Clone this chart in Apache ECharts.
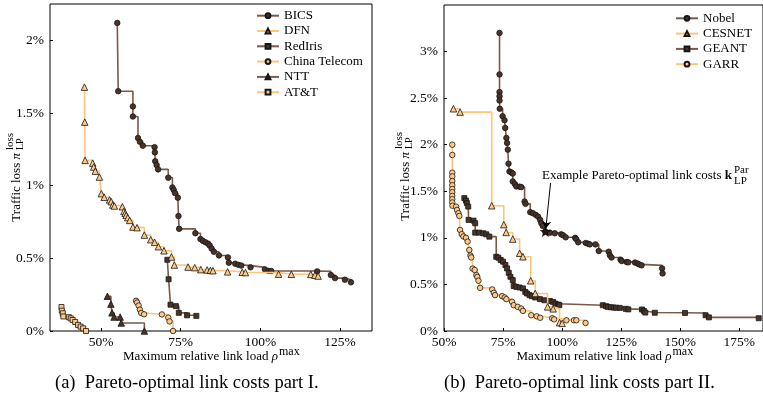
<!DOCTYPE html>
<html>
<head>
<meta charset="utf-8">
<script src="https://cdn.jsdelivr.net/npm/echarts@6/dist/echarts.min.js"></script>
<style>
  html, body { margin: 0; padding: 0; background: #fff; }
  #main { width: 763px; height: 398px; }
</style>
</head>
<body>
<div id="main"></div>
<script>
// Pareto fronts: x = maximum relative link load (%), y = traffic loss (%)

// ---- Part I ----
const bicsX = [55.1, 55.4, 60.0, 60.0, 61.6, 62.2, 63.1, 66.8, 66.9, 67.0, 67.45, 67.9, 71.1, 72.4, 72.8, 73.2, 74.1, 74.3, 74.5, 79.6, 81.2, 82.0, 82.8, 83.6, 84.1, 84.7, 85.4, 87.0, 89.8, 90.1, 92.1, 93.1, 94.0, 96.9, 101.4, 102.5, 103.4, 117.8, 122.1, 123.4, 126.5, 128.4];
const bicsY = [2.12, 1.65, 1.545, 1.476, 1.328, 1.302, 1.275, 1.265, 1.229, 1.168, 1.142, 1.112, 1.055, 0.988, 0.97, 0.949, 0.917, 0.791, 0.703, 0.673, 0.633, 0.62, 0.61, 0.601, 0.588, 0.567, 0.545, 0.52, 0.506, 0.47, 0.463, 0.455, 0.45, 0.438, 0.424, 0.414, 0.413, 0.41, 0.385, 0.364, 0.353, 0.335];

const dfnX = [44.8, 44.9, 45.0, 47.4, 47.7, 48.2, 49.5, 50.1, 51.0, 52.7, 53.2, 53.7, 54.2, 56.7, 57.2, 57.6, 57.9, 58.4, 59.0, 60.0, 61.3, 63.6, 65.6, 66.8, 68.0, 69.75, 72.1, 73.0, 77.3, 79.4, 81.3, 83.3, 84.3, 85.1, 89.7, 94.3, 95.3, 105.7, 109.7, 115.8, 117.1, 118.1];
const dfnY = [1.678, 1.437, 1.174, 1.155, 1.128, 1.1, 1.059, 0.945, 0.92, 0.902, 0.89, 0.867, 0.86, 0.855, 0.823, 0.81, 0.796, 0.78, 0.761, 0.715, 0.711, 0.66, 0.628, 0.61, 0.58, 0.552, 0.509, 0.454, 0.44, 0.436, 0.422, 0.42, 0.417, 0.415, 0.407, 0.404, 0.402, 0.391, 0.39, 0.389, 0.384, 0.378];

const redirisX = [70.8, 71.2, 71.8, 73.5, 74.4, 77.0, 79.9];
const redirisY = [0.49, 0.356, 0.181, 0.171, 0.125, 0.108, 0.104];

const chinaTelecomX = [61.0, 61.3, 61.8, 62.2, 62.6, 63.5, 69.1, 71.1, 71.5, 72.6];
const chinaTelecomY = [0.208, 0.196, 0.175, 0.147, 0.124, 0.115, 0.114, 0.092, 0.066, 0.0];

const nttX = [52.0, 53.1, 53.45, 54.1, 56.0, 56.35, 63.6];
const nttY = [0.239, 0.185, 0.125, 0.096, 0.096, 0.055, 0.0];

const attX = [37.6, 37.7, 38.0, 38.2, 39.9, 40.5, 41.1, 41.9, 42.8, 43.6, 44.4, 45.3];
const attY = [0.165, 0.14, 0.122, 0.1, 0.095, 0.087, 0.076, 0.062, 0.042, 0.03, 0.018, 0.0];

// ---- Part II ----
const nobelX = [73.5, 73.5, 73.5, 73.5, 73.5, 73.6, 74.8, 75.6, 75.9, 76.4, 76.7, 77.0, 77.3, 77.7, 78.5, 79.1, 79.1, 80.0, 80.6, 82.0, 82.7, 84.1, 84.5, 86.5, 87.6, 88.8, 89.8, 90.7, 91.2, 91.8, 92.9, 94.85, 96.9, 99.6, 100.4, 101.5, 105.5, 106.0, 106.8, 110.0, 111.0, 111.7, 114.1, 115.5, 119.7, 120.2, 120.9, 124.7, 125.2, 127.3, 128.0, 130.8, 131.8, 132.6, 133.6, 142.3, 142.5];
const nobelY = [3.20, 2.755, 2.565, 2.52, 2.475, 2.386, 2.306, 2.263, 2.18, 2.073, 2.019, 1.947, 1.796, 1.713, 1.703, 1.69, 1.606, 1.577, 1.552, 1.55, 1.545, 1.39, 1.365, 1.276, 1.265, 1.247, 1.228, 1.193, 1.157, 1.128, 1.067, 1.056, 1.049, 1.038, 1.028, 1.006, 1.0, 0.985, 0.952, 0.945, 0.937, 0.93, 0.93, 0.859, 0.851, 0.812, 0.789, 0.766, 0.751, 0.74, 0.737, 0.735, 0.726, 0.715, 0.705, 0.672, 0.618];
const nobelExampleIndex = 30;            // highlighted Pareto-optimal point
const exampleArrowFrom = [95.1, 1.59];
const exampleArrowTo = [93.1, 1.10];

const cesnetX = [54.0, 56.8, 70.2, 75.3, 76.3, 79.1, 82.0, 83.4, 86.7, 88.6, 93.85, 96.2, 98.9, 100.0];
const cesnetY = [2.386, 2.35, 1.345, 1.142, 1.058, 0.987, 0.834, 0.797, 0.539, 0.403, 0.259, 0.238, 0.09, 0.082];

const geantX = [58.6, 59.3, 59.7, 60.25, 60.4, 62.5, 63.2, 63.2, 64.85, 66.65, 67.9, 69.2, 72.1, 73.0, 74.0, 75.0, 76.0, 76.7, 77.4, 78.1, 79.1, 79.5, 80.6, 82.0, 83.4, 84.4, 85.1, 86.2, 87.2, 88.6, 90.6, 92.5, 94.8, 96.2, 97.2, 98.3, 98.8, 117.2, 118.6, 119.4, 120.6, 121.8, 122.9, 124.4, 126.9, 128.0, 133.8, 134.6, 135.2, 139.2, 152.0, 160.7, 162.1, 183.2];
const geantY = [1.427, 1.40, 1.373, 1.336, 1.193, 1.185, 1.157, 1.056, 1.056, 1.049, 1.038, 1.013, 0.797, 0.787, 0.762, 0.744, 0.708, 0.672, 0.625, 0.582, 0.546, 0.482, 0.474, 0.467, 0.457, 0.42, 0.403, 0.385, 0.374, 0.36, 0.342, 0.33, 0.322, 0.312, 0.293, 0.284, 0.277, 0.277, 0.266, 0.259, 0.255, 0.252, 0.25, 0.248, 0.238, 0.232, 0.231, 0.215, 0.198, 0.196, 0.194, 0.169, 0.146, 0.137];

const garrX = [53.5, 53.5, 53.5, 53.5, 53.5, 53.5, 53.5, 53.5, 53.5, 53.5, 53.5, 53.6, 55.1, 55.5, 56.1, 56.5, 56.8, 57.5, 58.2, 59.3, 60.0, 60.7, 61.2, 61.5, 62.1, 63.0, 63.7, 64.1, 64.6, 65.3, 70.4, 71.1, 71.6, 74.6, 75.7, 76.4, 78.8, 79.5, 81.2, 82.7, 83.4, 86.9, 89.2, 90.7, 95.8, 96.6, 101.8, 105.0, 106.0, 109.9];
const garrY = [2.0, 1.89, 1.70, 1.66, 1.61, 1.565, 1.525, 1.49, 1.45, 1.415, 1.38, 1.345, 1.335, 1.30, 1.265, 1.235, 1.085, 1.04, 1.015, 1.0, 0.96, 0.87, 0.81, 0.79, 0.67, 0.655, 0.60, 0.58, 0.54, 0.463, 0.446, 0.41, 0.385, 0.374, 0.36, 0.342, 0.313, 0.277, 0.259, 0.241, 0.216, 0.169, 0.158, 0.142, 0.137, 0.125, 0.115, 0.115, 0.115, 0.086];

// ---- Axis ticks ----
const xTicksA = [50, 75, 100, 125];
const yTicksA = [0, 0.5, 1, 1.5, 2];
const xTicksB = [50, 75, 100, 125, 150, 175];
const yTicksB = [0, 0.5, 1, 1.5, 2, 2.5, 3];

const legendA = ['BICS', 'DFN', 'RedIris', 'China Telecom', 'NTT', 'AT&T'];
const legendB = ['Nobel', 'CESNET', 'GEANT', 'GARR'];

// ---- Styling ----
const FONT = '"Liberation Serif", "Times New Roman", serif';
const BROWN_LINE = '#7a5947';
const BROWN_FILL = '#4b3427';
const ORANGE_LINE = '#ffc47c';
const ORANGE_FILL = '#ffca88';

const pts = (xs, ys) => xs.map((x, i) => [x, ys[i]]);
const pct = v => v + '%';

function frontSeries(name, xs, ys, grid, symbol, size, dark) {
  return {
    name, type: 'line', xAxisIndex: grid, yAxisIndex: grid,
    data: pts(xs, ys), step: 'end',
    symbol, symbolSize: size, showAllSymbol: true,
    lineStyle: { color: dark ? BROWN_LINE : ORANGE_LINE, width: 1.6 },
    itemStyle: { color: dark ? BROWN_FILL : ORANGE_FILL, borderColor: '#151515', borderWidth: 0.8 },
    emphasis: { disabled: true },
    animation: false,
    z: dark ? 2 : 3
  };
}

function xAxisFor(grid, min, max, ticks) {
  return {
    type: 'value', gridIndex: grid, min, max,
    axisLine: { show: false },
    splitLine: { show: false },
    axisTick: { show: true, inside: true, length: 3, customValues: ticks, lineStyle: { color: '#000' } },
    axisLabel: { customValues: ticks, formatter: pct, margin: 4, color: '#000', fontFamily: FONT, fontSize: 13.5 }
  };
}
function yAxisFor(grid, min, max, ticks) {
  return {
    type: 'value', gridIndex: grid, min, max,
    axisLine: { show: false },
    splitLine: { show: false },
    axisTick: { show: true, inside: true, length: 3, customValues: ticks, lineStyle: { color: '#000' } },
    axisLabel: { customValues: ticks, formatter: pct, margin: 6, color: '#000', fontFamily: FONT, fontSize: 13.5 }
  };
}

// Text measuring for hand-placed super/subscripts
const measureCtx = document.createElement('canvas').getContext('2d');
function textWidth(str, size, style) {
  measureCtx.font = (style || '') + ' ' + size + 'px ' + FONT;
  return measureCtx.measureText(str).width;
}

function txt(x, y, text, size, extra) {
  return Object.assign({
    type: 'text', x, y, silent: true,
    style: Object.assign({
      text, fontSize: size, fontFamily: FONT, fill: '#000',
      align: 'left', verticalAlign: 'middle', textAlign: 'left', textVerticalAlign: 'middle'
    }, (extra && extra.style) || {})
  }, extra && extra.el ? extra.el : {});
}

// x-axis title: "Maximum relative link load ρ^max"
function xTitle(x, y) {
  const main = 'Maximum relative link load ';
  const w1 = textWidth(main, 13);
  const w2 = textWidth('ρ', 13, 'italic');
  return [
    txt(x, y, main, 13),
    txt(x + w1, y, 'ρ', 13, { style: { fontStyle: 'italic' } }),
    txt(x + w1 + w2 + 1, y - 5, 'max', 12)
  ];
}

// y-axis title: "Traffic loss π^loss_LP", rotated
function yTitle(x, y) {
  const wPi = textWidth('π', 13, 'italic');
  return {
    type: 'group', x, y, rotation: Math.PI / 2, silent: true,
    children: [
      txt(-wPi, 0, 'Traffic loss ', 13, { style: { align: 'right', textAlign: 'right' } }),
      txt(-wPi, 0, 'π', 13, { style: { fontStyle: 'italic' } }),
      txt(3, -6.5, 'loss', 11),
      txt(3, 3.5, 'LP', 10)
    ]
  };
}

const exampleText = 'Example Pareto-optimal link costs ';
const exW = textWidth(exampleText, 13);
const exK = textWidth('k', 13, 'bold');
const exLeft = 542;

const chart = echarts.init(document.getElementById('main'), null, { renderer: 'canvas' });

const series = [
  frontSeries('BICS', bicsX, bicsY, 0, 'circle', 5.5, true),
  frontSeries('DFN', dfnX, dfnY, 0, 'triangle', 6.5, false),
  frontSeries('RedIris', redirisX, redirisY, 0, 'rect', 5, true),
  frontSeries('China Telecom', chinaTelecomX, chinaTelecomY, 0, 'circle', 5.5, false),
  frontSeries('NTT', nttX, nttY, 0, 'triangle', 6.5, true),
  frontSeries('AT&T', attX, attY, 0, 'rect', 5, false),
  frontSeries('Nobel', nobelX, nobelY, 1, 'circle', 5.5, true),
  frontSeries('CESNET', cesnetX, cesnetY, 1, 'triangle', 6.5, false),
  frontSeries('GEANT', geantX, geantY, 1, 'rect', 5, true),
  frontSeries('GARR', garrX, garrY, 1, 'circle', 5.5, false)
];

// highlighted example point and its pointer
series[6].markPoint = {
  silent: true, animation: false,
  symbol: 'path://M0,-10L2.35,-3.24L9.51,-3.09L3.8,1.24L5.88,8.09L0,4L-5.88,8.09L-3.8,1.24L-9.51,-3.09L-2.35,-3.24Z',
  symbolSize: 10,
  itemStyle: { color: '#22170f', borderColor: '#000', borderWidth: 0.5 },
  label: { show: false },
  data: [{ coord: [nobelX[nobelExampleIndex], nobelY[nobelExampleIndex]] }]
};
series[6].markLine = {
  silent: true, animation: false,
  symbol: ['none', 'arrow'], symbolSize: 7,
  label: { show: false },
  lineStyle: { color: '#000', width: 1, type: 'solid' },
  data: [[{ coord: exampleArrowFrom }, { coord: exampleArrowTo }]]
};

const legendCommon = {
  orient: 'vertical', itemWidth: 22, itemHeight: 6, itemGap: 2.3,
  padding: 0,
  selectedMode: false,
  textStyle: { fontFamily: FONT, fontSize: 13, color: '#000', lineHeight: 13 }
};

chart.setOption({
  animation: false,
  backgroundColor: '#fff',
  grid: [
    { left: 50, top: 4, width: 322, height: 327, show: true, borderColor: '#000', borderWidth: 1 },
    { left: 444, top: 5, width: 323, height: 326, show: true, borderColor: '#000', borderWidth: 1 }
  ],
  xAxis: [xAxisFor(0, 34, 135, xTicksA), xAxisFor(1, 50, 185, xTicksB)],
  yAxis: [yAxisFor(0, 0, 2.25, yTicksA), yAxisFor(1, 0, 3.5, yTicksB)],
  legend: [
    Object.assign({ data: legendA, left: 256, top: 9.2 }, legendCommon),
    Object.assign({ data: legendB, left: 675, top: 11.8 }, legendCommon)
  ],
  series,
  graphic: {
    elements: [
      ...xTitle(123, 357),
      ...xTitle(516.5, 357),
      yTitle(17, 153),
      yTitle(406, 152),
      txt(exLeft, 176, exampleText, 13),
      txt(exLeft + exW, 176, 'k', 13, { style: { fontWeight: 'bold' } }),
      txt(exLeft + exW + exK + 2, 170, 'Par', 11),
      txt(exLeft + exW + exK + 2, 181.5, 'LP', 11),
      txt(55, 383, '(a)  Pareto-optimal link costs part I.', 18.5),
      txt(444, 383, '(b)  Pareto-optimal link costs part II.', 18.5)
    ]
  }
});
</script>
</body>
</html>
